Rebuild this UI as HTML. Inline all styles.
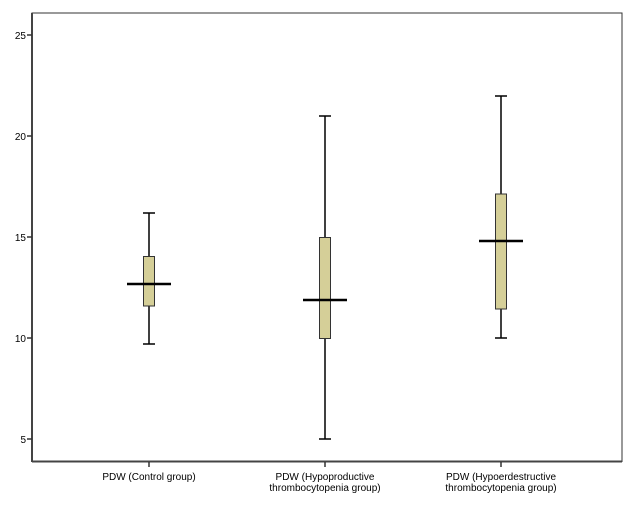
<!DOCTYPE html>
<html><head><style>body{margin:0;background:#fff}svg{display:block}</style></head><body>
<svg width="631" height="506" xmlns="http://www.w3.org/2000/svg" font-family="Liberation Sans, Arial, sans-serif" font-size="10">
<rect x="0" y="0" width="631" height="506" fill="#fff"/>
<rect x="32" y="13" width="590" height="448.5" fill="none" stroke="#333" stroke-width="1"/>
<line x1="32" y1="13" x2="32" y2="462" stroke="#444" stroke-width="2"/>
<line x1="32" y1="461.5" x2="622" y2="461.5" stroke="#444" stroke-width="2"/>
<g stroke="#333" stroke-width="1.5">
<line x1="27" y1="35" x2="32" y2="35"/><line x1="27" y1="136" x2="32" y2="136"/><line x1="27" y1="237" x2="32" y2="237"/><line x1="27" y1="338" x2="32" y2="338"/><line x1="27" y1="439" x2="32" y2="439"/>
<line x1="149" y1="462" x2="149" y2="467"/><line x1="325" y1="462" x2="325" y2="467"/><line x1="501" y1="462" x2="501" y2="467"/>
</g>
<g text-anchor="end" fill="#000">
<text x="26" y="39">25</text><text x="26" y="140">20</text><text x="26" y="241">15</text><text x="26" y="342">10</text><text x="26" y="443">5</text>
</g>
<g text-anchor="middle" fill="#000">
<text x="149" y="480">PDW (Control group)</text>
<text x="325" y="480">PDW (Hypoproductive</text><text x="325" y="491">thrombocytopenia group)</text>
<text x="501" y="480">PDW (Hypoerdestructive</text><text x="501" y="491">thrombocytopenia group)</text>
</g>
<g stroke="#000" stroke-width="1.5">
<line x1="149" y1="213" x2="149" y2="344"/><line x1="143" y1="213" x2="155" y2="213"/><line x1="143" y1="344" x2="155" y2="344"/>
<line x1="325" y1="116" x2="325" y2="439"/><line x1="319" y1="116" x2="331" y2="116"/><line x1="319" y1="439" x2="331" y2="439"/>
<line x1="501" y1="96" x2="501" y2="338"/><line x1="495" y1="96" x2="507" y2="96"/><line x1="495" y1="338" x2="507" y2="338"/>
</g>
<g fill="#d5cf98" stroke="#333" stroke-width="1">
<rect x="143.5" y="256.5" width="11" height="49.5"/>
<rect x="319.5" y="237.5" width="11" height="101"/>
<rect x="495.5" y="194" width="11" height="115"/>
</g>
<g stroke="#000" stroke-width="2.5">
<line x1="127" y1="284" x2="171" y2="284"/>
<line x1="303" y1="300" x2="347" y2="300"/>
<line x1="479" y1="241" x2="523" y2="241"/>
</g>
</svg>
</body></html>
